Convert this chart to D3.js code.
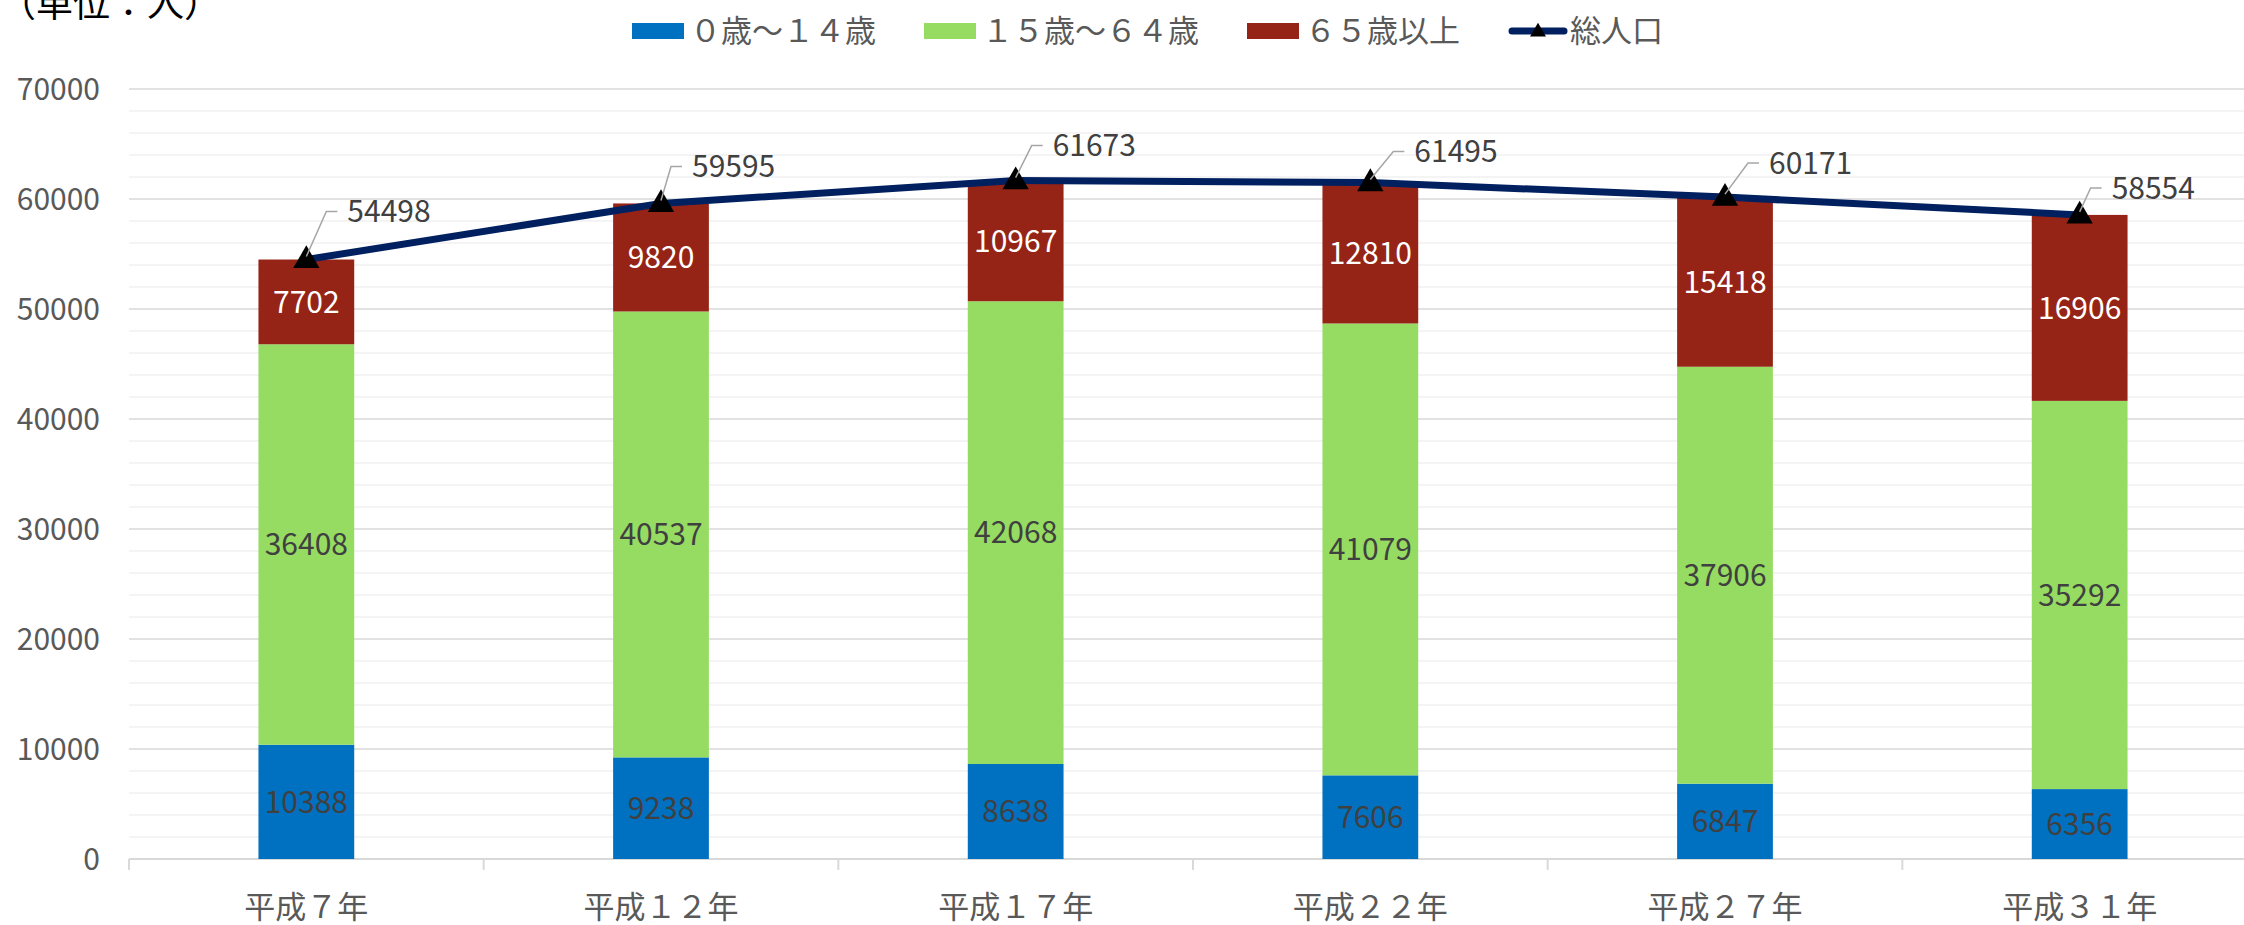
<!DOCTYPE html>
<html>
<head>
<meta charset="utf-8">
<script src="https://cdn.jsdelivr.net/npm/d3@7"></script>
<style>
body { margin: 0; background: #fff; }
svg text { font-family: "Noto Sans CJK JP", sans-serif; }
</style>
</head>
<body>
<div id="chart"></div>
<script>
// data
const years = ["平成７年", "平成１２年", "平成１７年", "平成２２年", "平成２７年", "平成３１年"]
const young = [10388, 9238, 8638, 7606, 6847, 6356]
const working = [36408, 40537, 42068, 41079, 37906, 35292]
const elderly = [7702, 9820, 10967, 12810, 15418, 16906]
const total = [54498, 59595, 61673, 61495, 60171, 58554]
const seriesNames = ["０歳～１４歳", "１５歳～６４歳", "６５歳以上", "総人口"]
const yTicks = [0, 10000, 20000, 30000, 40000, 50000, 60000, 70000]
const unitLabel = "（単位：人）"

// layout
const W = 2244, H = 925
const plotLeft = 129, plotRight = 2257, plotTop = 89, plotBottom = 859
const colors = ["#0070c0", "#96dc62", "#952416"]
const labelColors = ["#404040", "#404040", "#ffffff"]
const lineColor = "#002060"
const fs = 30
// hand-placed total labels (pixel nudges from each point, like the original)
const labelDx = [41, 31, 37, 44, 44, 32]
const labelDy = [-48, -37, -35, -31, -34, -27]

const rows = years.map((yr, i) => ({ year: yr, young: young[i], working: working[i], elderly: elderly[i], total: total[i] }))

const svg = d3.select("#chart").append("svg")
    .attr("width", W)
    .attr("height", H)

const x = d3.scaleBand().domain(years).range([plotLeft, plotRight]).paddingInner(0.73).paddingOuter(0.365)
const xCat = d3.scaleBand().domain(years).range([plotLeft, plotRight])
const y = d3.scaleLinear().domain([0, 70000]).range([plotBottom, plotTop])
const cx = d => x(d) + x.bandwidth() / 2

// gridlines
svg.append("g").selectAll("line")
    .data(y.ticks(35).filter(t => t % 10000 !== 0))
    .enter().append("line")
    .attr("x1", plotLeft).attr("x2", W)
    .attr("y1", d => y(d)).attr("y2", d => y(d))
    .attr("stroke", "#f0f0f0").attr("stroke-width", 1.5)
svg.append("g").selectAll("line")
    .data(yTicks.filter(t => t > 0))
    .enter().append("line")
    .attr("x1", plotLeft).attr("x2", W)
    .attr("y1", d => y(d)).attr("y2", d => y(d))
    .attr("stroke", "#d9d9d9").attr("stroke-width", 1.5)

// y axis
const yAxis = svg.append("g")
    .attr("transform", "translate(" + plotLeft + ",0)")
    .call(d3.axisLeft(y).tickValues(yTicks).tickSize(0).tickPadding(29).tickFormat(d3.format("d")))
yAxis.select(".domain").remove()
yAxis.selectAll("text")
    .attr("dy", "0.36em")
    .style("font-size", fs + "px")
    .attr("fill", "#595959")

// x axis
svg.append("line")
    .attr("x1", plotLeft).attr("x2", W)
    .attr("y1", plotBottom).attr("y2", plotBottom)
    .attr("stroke", "#d9d9d9").attr("stroke-width", 2)
svg.append("g").selectAll("line")
    .data(years)
    .enter().append("line")
    .attr("x1", d => xCat(d)).attr("x2", d => xCat(d))
    .attr("y1", plotBottom).attr("y2", plotBottom + 11)
    .attr("stroke", "#d9d9d9").attr("stroke-width", 2)
const xAxis = svg.append("g")
    .attr("transform", "translate(0," + plotBottom + ")")
    .call(d3.axisBottom(x).tickSize(0))
xAxis.select(".domain").remove()
xAxis.selectAll("text")
    .attr("y", 59).attr("dy", null)
    .style("font-size", "31px")
    .attr("fill", "#595959")

// stacked bars
const stack = d3.stack().keys(["young", "working", "elderly"])(rows)
const layers = svg.selectAll(".layer")
    .data(stack)
    .enter().append("g")
    .attr("class", "layer")
    .attr("fill", (d, i) => colors[i])
layers.selectAll("rect")
    .data(d => d)
    .enter().append("rect")
    .attr("x", d => x(d.data.year))
    .attr("width", x.bandwidth())
    .attr("y", d => y(d[1]))
    .attr("height", d => y(d[0]) - y(d[1]))

layers.each(function (layer, li) {
    d3.select(this).selectAll("text")
        .data(layer)
        .enter().append("text")
        .attr("x", d => cx(d.data.year))
        .attr("y", d => (y(d[0]) + y(d[1])) / 2)
        .attr("dy", "0.36em")
        .attr("text-anchor", "middle")
        .style("font-size", fs + "px")
        .attr("fill", labelColors[li])
        .text(d => d[1] - d[0])
})

// total line
const line = d3.line().x(d => cx(d.year)).y(d => y(d.total))
svg.append("path")
    .datum(rows)
    .attr("d", line)
    .attr("fill", "none")
    .attr("stroke", lineColor)
    .attr("stroke-width", 7)
    .attr("stroke-linejoin", "round")

const tri = d3.symbol().type(d3.symbolTriangle).size(300)
svg.append("g").selectAll("path")
    .data(rows)
    .enter().append("path")
    .attr("d", tri)
    .attr("transform", d => "translate(" + cx(d.year) + "," + (y(d.total) + 1) + ")")
    .attr("fill", "#000")

// total labels with leader lines
svg.append("g").selectAll("path")
    .data(rows)
    .enter().append("path")
    .attr("d", (d, i) => {
        const px = cx(d.year), py = y(d.total)
        const tx = px + labelDx[i], ty = py + labelDy[i]
        return "M" + px + "," + (py - 3) + "L" + (tx - 21) + "," + ty + "L" + (tx - 10) + "," + ty
    })
    .attr("fill", "none")
    .attr("stroke", "#a6a6a6")
    .attr("stroke-width", 1.5)
svg.append("g").selectAll("text")
    .data(rows)
    .enter().append("text")
    .attr("x", (d, i) => cx(d.year) + labelDx[i])
    .attr("y", (d, i) => y(d.total) + labelDy[i])
    .attr("dy", "0.36em")
    .style("font-size", fs + "px")
    .attr("fill", "#404040")
    .text(d => d.total)

// unit label
svg.append("text")
    .attr("x", -1).attr("y", 17)
    .style("font-size", "37px")
    .attr("fill", "#000")
    .text(unitLabel)

// legend
const legend = svg.append("g").attr("transform", "translate(632,31)")
let lx = 0
seriesNames.forEach(function (name, i) {
    const g = legend.append("g").attr("transform", "translate(" + lx + ",0)")
    let w
    if (i < 3) {
        g.append("rect").attr("x", 0).attr("y", -8).attr("width", 52).attr("height", 16).attr("fill", colors[i])
        w = 58
    } else {
        g.append("line").attr("x1", 4).attr("x2", 56).attr("y1", 0).attr("y2", 0)
            .attr("stroke", lineColor).attr("stroke-width", 7).attr("stroke-linecap", "round")
        g.append("path").attr("d", d3.symbol().type(d3.symbolTriangle).size(110)).attr("transform", "translate(30,1)").attr("fill", "#000")
        w = 62
    }
    const t = g.append("text")
        .attr("x", w).attr("y", 0).attr("dy", "0.36em")
        .style("font-size", "31px")
        .attr("fill", "#595959")
        .text(name)
    lx += w + t.node().getComputedTextLength() + 48
})
</script>
</body>
</html>
